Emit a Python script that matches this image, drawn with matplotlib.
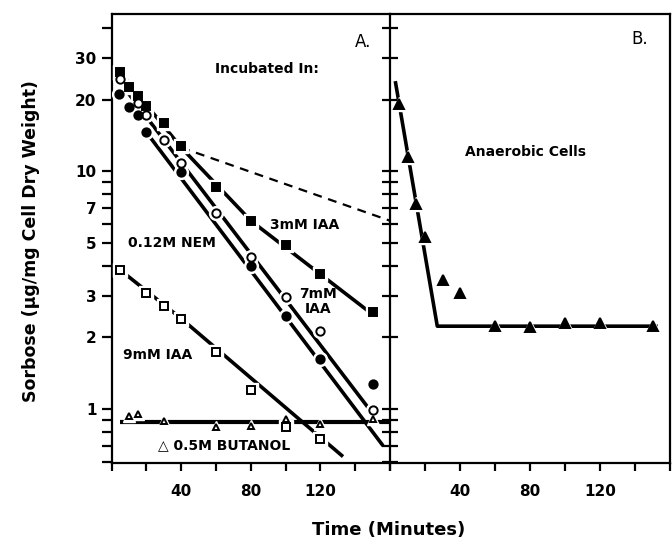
import matplotlib
matplotlib.use("Agg")
import matplotlib.pyplot as plt

plt.rcParams['font.family'] = ['DejaVu Sans']

# panel A, measured points (minutes, ug/mg)
iaa3_t = [5, 10, 15, 20, 30, 40, 60, 80, 100, 120, 150]
iaa3_v = [26.3, 22.6, 20.8, 18.9, 16.0, 12.8, 8.6, 6.2, 4.9, 3.7, 2.55]
iaa7_t = [5, 15, 20, 30, 40, 60, 80, 100, 120, 150]
iaa7_v = [24.4, 19.5, 17.3, 13.6, 10.9, 6.7, 4.35, 2.97, 2.13, 0.99]
nem_t = [4, 10, 15, 20, 40, 80, 100, 120, 150]
nem_v = [21.1, 18.7, 17.2, 14.6, 9.9, 4.0, 2.46, 1.62, 1.27]
iaa9_t = [5, 20, 30, 40, 60, 80, 100, 120]
iaa9_v = [3.84, 3.08, 2.72, 2.40, 1.73, 1.20, 0.84, 0.75]
but_t = [10, 15, 30, 60, 80, 100, 120, 150]
but_v = [0.935, 0.95, 0.89, 0.84, 0.85, 0.905, 0.86, 0.905]

# fitted lines drawn through the points
iaa3_fit_t = [5, 40, 80, 150]
iaa3_fit_v = [26.0, 12.6, 6.2, 2.5]
iaa7_fit_t = [5, 148]
iaa7_fit_v = [23.6, 1.0]
nem_fit_t = [20, 156]
nem_fit_v = [14.6, 0.70]
iaa9_fit_t = [5, 40, 133]
iaa9_fit_v = [3.84, 2.40, 0.63]
but_fit_t = [5, 160]
but_fit_v = [0.88, 0.88]
extrap_t = [40, 160]
extrap_v = [12.6, 6.2]

# panel B, anaerobic cells
ana_t = [5, 10, 15, 20, 30, 40, 60, 80, 100, 120, 150]
ana_v = [19.3, 11.5, 7.3, 5.3, 3.5, 3.07, 2.23, 2.21, 2.29, 2.29, 2.23]
ana_fit_t = [3, 27, 153]
ana_fit_v = [24.0, 2.23, 2.23]

yticks = [0.6, 0.7, 0.8, 0.9, 1, 2, 3, 4, 5, 6, 7, 8, 9, 10, 20, 30, 40]
ylabels = ['', '', '', '', '1', '2', '3', '', '5', '', '7', '', '', '10', '20', '30', '']
xticks = [0, 20, 40, 60, 80, 100, 120, 140, 160]
xlabels = ['', '', '40', '', '80', '', '120', '', '']

fig = plt.figure(figsize=(6.72, 5.47), dpi=100)
axA = fig.add_axes([0.1662, 0.1536, 0.4141, 0.8208])
axB = fig.add_axes([0.5804, 0.1536, 0.4167, 0.8208])

LW = 2.6


def pts(ax, t, v, marker, filled, ms):
    # white halo first so the line breaks around each symbol
    ax.plot(t, v, ls='none', marker=marker, ms=ms + 4, mfc='white', mec='white', zorder=3)
    ax.plot(t, v, ls='none', marker=marker, ms=ms, mfc='black' if filled else 'white',
            mec='black', mew=1.4, zorder=4)


for ax in (axA, axB):
    ax.set_yscale('log')
    ax.set_ylim(0.592, 46)
    ax.set_xlim(0, 160)
    ax.set_xticks(xticks)
    ax.minorticks_off()
    for s in ax.spines.values():
        s.set_linewidth(1.6)

axA.plot(iaa3_fit_t, iaa3_fit_v, color='black', lw=LW, solid_capstyle='butt', zorder=2)
axA.plot(iaa7_fit_t, iaa7_fit_v, color='black', lw=LW, solid_capstyle='butt', zorder=2)
axA.plot(nem_fit_t, nem_fit_v, color='black', lw=LW, solid_capstyle='butt', zorder=2)
axA.plot(iaa9_fit_t, iaa9_fit_v, color='black', lw=LW, solid_capstyle='butt', zorder=2)
axA.plot(but_fit_t, but_fit_v, color='black', lw=LW + 0.4, solid_capstyle='butt', zorder=2)
axA.plot(extrap_t, extrap_v, color='black', lw=1.6, dashes=(4, 3), zorder=2)

pts(axA, iaa3_t, iaa3_v, 's', True, 5.5)
pts(axA, iaa7_t, iaa7_v, 'o', False, 6)
pts(axA, nem_t, nem_v, 'o', True, 6)
pts(axA, iaa9_t, iaa9_v, 's', False, 6)
pts(axA, but_t, but_v, '^', False, 5)

axB.plot(ana_fit_t, ana_fit_v, color='black', lw=LW, solid_capstyle='butt', zorder=2)
pts(axB, ana_t, ana_v, '^', True, 6.5)

axA.set_yticks(yticks)
axA.set_yticklabels(ylabels)
axA.set_xticklabels(xlabels)
axA.tick_params(axis='y', which='major', direction='out', length=7, width=1.6,
                labelsize=11, pad=4, right=False)
axA.tick_params(axis='x', direction='out', length=6, width=1.6, labelsize=11, pad=9)
axA.spines['right'].set_visible(False)

axB.set_yticks(yticks)
axB.set_yticklabels([''] * len(yticks))
axB.set_xticklabels(xlabels)
axB.tick_params(axis='y', direction='inout', length=11, width=1.6, right=False)
axB.tick_params(axis='x', direction='out', length=6, width=1.6, labelsize=11, pad=9)

for lab in axA.get_xticklabels() + axA.get_yticklabels() + axB.get_xticklabels():
    lab.set_fontweight('bold')

tk = dict(fontsize=10, fontweight='bold', ha='center', va='center')
axA.text(0.903, 0.938, 'A.', transform=axA.transAxes, fontsize=12, ha='center', va='center')
axA.text(0.557, 0.877, 'Incubated In:', transform=axA.transAxes, **tk)
axA.text(0.695, 0.530, '3mM IAA', transform=axA.transAxes, **tk)
axA.text(0.216, 0.489, '0.12M NEM', transform=axA.transAxes, **tk)
axA.text(0.741, 0.359, '7mM\nIAA', transform=axA.transAxes, linespacing=1.1, **tk)
axA.text(0.164, 0.241, '9mM IAA', transform=axA.transAxes, **tk)
axA.text(0.405, 0.040, '\u25b3 0.5M BUTANOL', transform=axA.transAxes, **tk)

axB.text(0.890, 0.944, 'B.', transform=axB.transAxes, fontsize=12, ha='center', va='center')
axB.text(0.485, 0.693, 'Anaerobic Cells', transform=axB.transAxes, **tk)

fig.text(31 / 672, 0.56, 'Sorbose (\u00b5g/mg Cell Dry Weight)', rotation=90,
         fontsize=12.5, fontweight='bold', ha='center', va='center')
fig.text(389 / 672, 1 - 530 / 547, 'Time (Minutes)', fontsize=13, fontweight='bold',
         ha='center', va='center')

fig.savefig('out.png', dpi=100)
